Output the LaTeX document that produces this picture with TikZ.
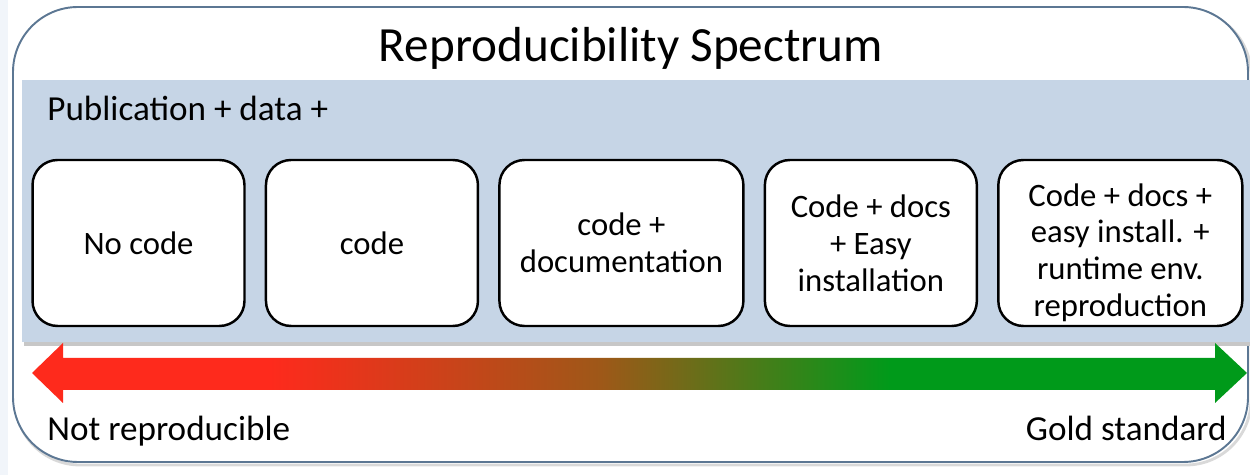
\documentclass[tikz,border=0pt]{standalone}
\usepackage{fontspec}
\setmainfont{Carlito}
\usetikzlibrary{positioning}

\definecolor{bandblue}{HTML}{C6D5E6}
\definecolor{stripblue}{HTML}{F1F5FA}
\definecolor{framegray}{HTML}{5C7793}
\definecolor{arrred}{HTML}{FE2A1C}
\definecolor{arrbrown}{HTML}{9E5818}
\definecolor{arrgreen}{HTML}{009A1A}

% Verlauf rot -> braun -> gruen (Pfad liegt zwischen 25bp und 75bp)
\pgfdeclarehorizontalshading{spectrum}{100bp}{%
  color(0bp)=(arrred); color(34.8bp)=(arrred); color(48.4bp)=(arrbrown);
  color(60.3bp)=(arrgreen); color(100bp)=(arrgreen)}

\begin{document}
\begin{tikzpicture}[x=0.02cm, y=-0.02cm,
    stage/.style={draw, line width=1.4pt, fill=white, rounded corners=0.5cm,
        minimum height=3.32cm, align=center, inner sep=2pt, outer sep=0pt,
        font=\fontsize{18.6}{21}\selectfont},
    narrow/.style={stage, minimum width=4.24cm},
    wide/.style={stage, minimum width=4.88cm},
    caption/.style={inner sep=0pt, font=\fontsize{20}{24}\selectfont}]

    % Parameter
    \def\gap{0.43cm}
    \def\rowy{243}

    \useasboundingbox (0,0) rectangle (1250,475);

    % Streifen links
    \fill[stripblue] (0,0) rectangle (8,475);

    % Rahmen mit Schatten
    \draw[black!15, line width=1.6pt, rounded corners=1.3cm] (15,10) rectangle (1251,465);
    \draw[framegray, line width=1.1pt, fill=white, rounded corners=1.3cm] (13,7) rectangle (1248,462);

    % Titel
    \node[inner sep=0pt, anchor=base] (title) at (631,62)
        {\fontsize{28}{32}\selectfont Reproducibility Spectrum};

    % Blaues Band
    \fill[black!22] (24,342) rectangle (1250,346);
    \fill[bandblue] (22,80) rectangle (1250,342);
    \node[caption, anchor=base west] (pubdata) at (47,121) {Publication + data +};

    % Stufen
    \node[narrow] (nocode) at (138.5,\rowy) {No code};
    \node[narrow, right=\gap of nocode] (code) {code};
    \node[wide, right=\gap of code] (codedoc) {code +\\documentation};
    \node[narrow, right=\gap of codedoc] (easyinst) {Code + docs\\+ Easy\\installation};
    \node[wide, right=\gap of easyinst] (runtime)
        {\rule{0pt}{24pt}Code + docs +\\easy install. +\\runtime env.\\reproduction};

    % Doppelpfeil mit Verlauf
    \shade[shading=spectrum] (32,373) -- (63,343) -- (63,358) -- (1215,358)
        -- (1215,343) -- (1247,373) -- (1215,403) -- (1215,390)
        -- (63,390) -- (63,403) -- cycle;

    % Enden der Skala
    \node[caption, anchor=base west] (notrep) at (47,441) {Not reproducible};
    \node[caption, anchor=base east] (gold) at (1227,441) {Gold standard};

\end{tikzpicture}
\end{document}
